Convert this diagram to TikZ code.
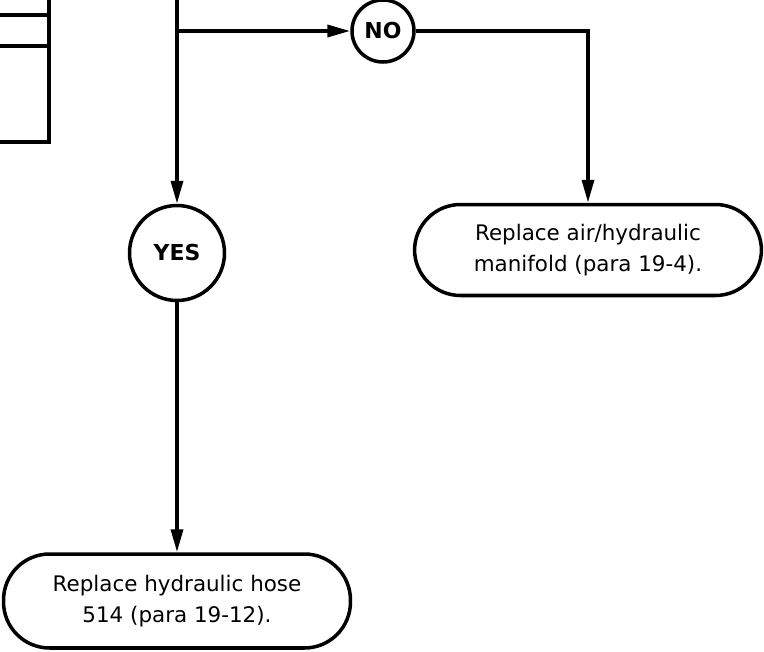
\documentclass[tikz,border=0pt]{standalone}
\usepackage{fontspec}
\setmainfont{DejaVu Sans}
\usepackage{tikz}
\usetikzlibrary{arrows.meta,positioning}

\begin{document}
\begin{tikzpicture}[
        x=0.02cm, y=-0.02cm,
        line width=2pt,
        >={Triangle[length=4.6mm,width=2.4mm]},
        answer/.style={draw, circle, inner sep=0pt, font=\bfseries\fontsize{12.5}{14}\selectfont},
        action/.style={draw, rectangle, rounded corners=0.92cm, minimum width=6.94cm, minimum height=1.84cm,
            align=center, font=\fontsize{12.2}{17.5}\selectfont}
    ]
        \clip (0,0) rectangle (764,652);

        % Previous step (continued from above)
        \draw (-10,142) -| (49,-10);
        \draw (-10,15) -- (49,15);
        \draw (-10,46) -- (49,46);
        \coordinate (from) at (177,-10);

        % Nodes
        \node (no) [answer, minimum size=1.24cm] at (383,31) {NO};
        \node (yes) [answer, minimum size=1.9cm] at (177,253) {YES};
        \node (manifold) [action, minimum height=1.82cm] at (588,250) {Replace air/hydraulic\\manifold (para 19-4).};
        \node (hose) [action, minimum height=1.88cm] at (177,601) {Replace hydraulic hose\\514 (para 19-12).};

        % Connections
        \draw[->] (from) -- (yes);
        \draw[->] (from |- no) -- (no);
        \draw[->] (no) -| (manifold);
        \draw[->] (yes) -- (hose);

    \end{tikzpicture}
\end{document}
